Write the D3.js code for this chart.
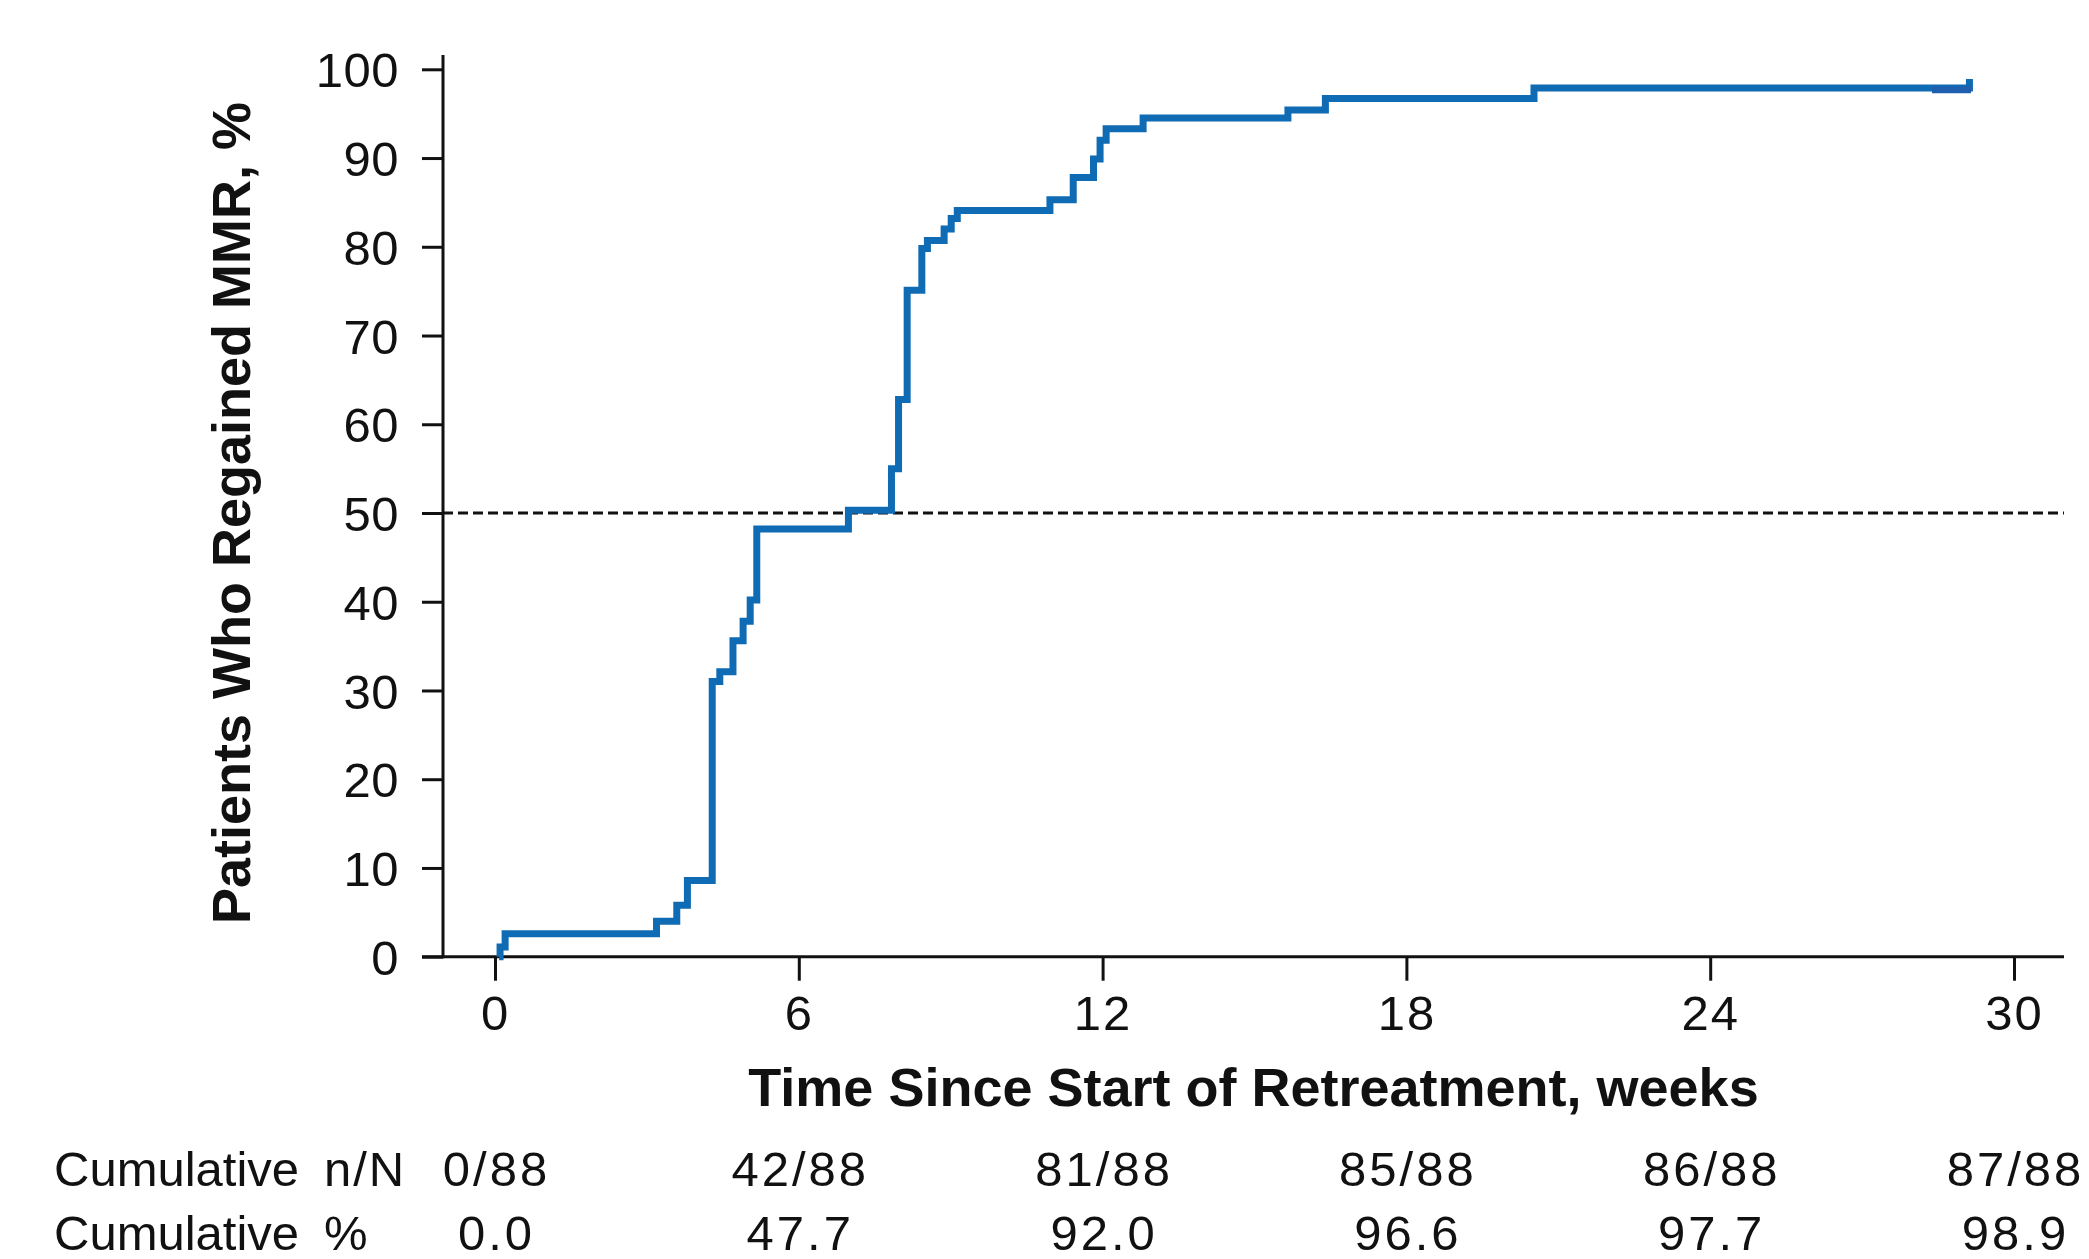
<!DOCTYPE html>
<html>
<head>
<meta charset="utf-8">
<script src="https://cdn.jsdelivr.net/npm/d3@7"></script>
<style>
  body { margin: 0; background: #fff; }
  text { font-family: "Liberation Sans", Arial, Helvetica, sans-serif; fill: #111; }
</style>
</head>
<body>
<div id="chart"></div>
<script>
// Chart data
var weeks = [0.08, 0.1, 0.2, 3.19, 3.59, 3.8, 4.29, 4.44, 4.70, 4.90, 5.04, 5.17, 6.98, 7.83, 7.97, 8.14, 8.43, 8.54, 8.87, 9.01, 9.13, 10.96, 11.42, 11.82, 11.95, 12.07, 12.80, 15.66, 16.40, 20.52, 29.12];
var pct   = [0, 1.1, 2.6, 4.0, 5.8, 8.6, 31.0, 32.1, 35.6, 37.8, 40.2, 48.2, 50.3, 55.0, 62.8, 75.1, 79.8, 80.7, 82.0, 83.2, 84.1, 85.3, 87.8, 89.9, 92.0, 93.3, 94.5, 95.4, 96.7, 97.9, 98.9];

// short darker overlap drawn near the end of the curve
var tailWeeks = [28.38, 29.15];
var tailPct = [97.7, 97.7];

var xTicks = [0, 6, 12, 18, 24, 30];
var yTicks = [0, 10, 20, 30, 40, 50, 60, 70, 80, 90, 100];
var refLine = 50;

var tableRows = ["n/N", "%"];
var tableCounts = ["0/88", "42/88", "81/88", "85/88", "86/88", "87/88"];
var tablePct = ["0.0", "47.7", "92.0", "96.6", "97.7", "98.9"];

var xTitle = "Time Since Start of Retreatment, weeks";
var yTitle = "Patients Who Regained MMR, %";

/*
 * SETUP
 * =============================== */
var width = 2089, height = 1259;
var axisX = 443, axisY = 956.7;
var blue = "#0f6bb4";

var svg = d3.select("#chart").append("svg")
  .attr("width", width)
  .attr("height", height);

var x = d3.scaleLinear().domain([0, 30]).range([495, 2014]);
var y = d3.scaleLinear().domain([0, 100]).range([axisY, 69.3]);

/*
 * AXES
 * =============================== */
var yAxis = svg.append("g")
  .attr("transform", "translate(" + axisX + ",0)")
  .call(d3.axisLeft(y).tickValues(yTicks).tickSize(21).tickSizeOuter(0).tickPadding(23));

var xAxis = svg.append("g")
  .attr("transform", "translate(0," + axisY + ")")
  .call(d3.axisBottom(x).tickValues(xTicks).tickSize(24).tickSizeOuter(0));

[yAxis, xAxis].forEach(function(g) {
  g.select(".domain").remove();
  g.selectAll(".tick line").attr("stroke", "#111").attr("stroke-width", 3);
  g.selectAll(".tick text")
    .style("font-size", "49px")
    .attr("fill", "#111");
});
yAxis.selectAll(".tick text").attr("dy", "0.36em").style("letter-spacing", "0.5px");
xAxis.selectAll(".tick text").attr("y", 73).attr("dy", 0).style("letter-spacing", "2px");

// axis lines (y axis runs a bit past 100, x axis starts at the y tick ends)
svg.append("line")
  .attr("x1", axisX).attr("x2", axisX)
  .attr("y1", 55).attr("y2", axisY + 1.5)
  .attr("stroke", "#111").attr("stroke-width", 3);
svg.append("line")
  .attr("x1", axisX - 21).attr("x2", 2064)
  .attr("y1", axisY).attr("y2", axisY)
  .attr("stroke", "#111").attr("stroke-width", 3);

// 50% reference line
svg.append("line")
  .attr("x1", axisX).attr("x2", 2064)
  .attr("y1", y(refLine)).attr("y2", y(refLine))
  .attr("stroke", "#111").attr("stroke-width", 2.8)
  .attr("stroke-dasharray", "10,5");

/*
 * CURVE
 * =============================== */
var line = d3.line()
  .x(function(d) { return x(d[0]); })
  .y(function(d) { return y(d[1]); })
  .curve(d3.curveStepAfter);

svg.append("path")
  .datum(d3.zip(weeks, pct))
  .attr("d", line)
  .attr("fill", "none")
  .attr("stroke", blue)
  .attr("stroke-width", 7)
  .attr("stroke-linejoin", "miter")
  .attr("stroke-linecap", "butt");

svg.append("path")
  .datum(d3.zip(tailWeeks, tailPct))
  .attr("d", line)
  .attr("fill", "none")
  .attr("stroke", "#1f5fae")
  .attr("stroke-width", 7);

/*
 * TITLES
 * =============================== */
svg.append("text")
  .attr("x", (axisX + 2064) / 2)
  .attr("y", 1106)
  .attr("text-anchor", "middle")
  .style("font-size", "54px")
  .style("font-weight", "bold")
  .text(xTitle);

svg.append("text")
  .attr("transform", "translate(250," + y(50) + ") rotate(-90)")
  .attr("text-anchor", "middle")
  .style("font-size", "54px")
  .style("font-weight", "bold")
  .text(yTitle);

/*
 * TABLE
 * =============================== */
var rowY = [1186, 1250];
var rowValues = [tableCounts, tablePct];

tableRows.forEach(function(label, i) {
  svg.append("text")
    .attr("x", 54).attr("y", rowY[i])
    .style("font-size", "49px")
    .text("Cumulative");
  svg.append("text")
    .attr("x", 324).attr("y", rowY[i])
    .style("font-size", "49px")
    .style("letter-spacing", "2px")
    .text(label);
  svg.selectAll(null)
    .data(rowValues[i])
    .enter().append("text")
    .attr("x", function(d, j) { return x(xTicks[j]) + 1.5; })
    .attr("y", rowY[i])
    .attr("text-anchor", "middle")
    .style("font-size", "49px")
    .style("letter-spacing", "3px")
    .text(function(d) { return d; });
});
</script>
</body>
</html>
